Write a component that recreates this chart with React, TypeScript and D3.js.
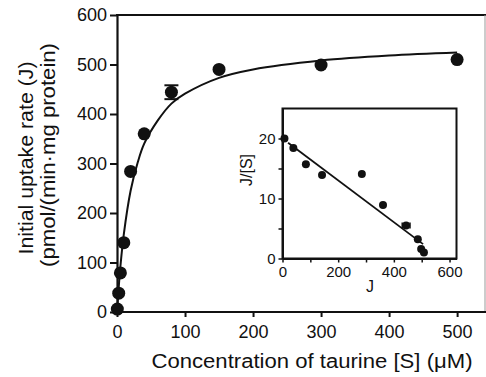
import React, { useEffect, useRef } from 'react';
import * as d3 from 'd3';

// main plot: uptake rate vs taurine concentration
const substrate = [0.5, 2.5, 5, 10, 20, 40, 80, 150, 300, 500];
const uptake = [6, 38, 79, 140, 284, 360, 444, 490, 499, 510];
const uptakeErr = [0, 0, 0, 0, 0, 0, 14, 0, 0, 0];

// fitted curve
const fitS = [0, 2, 5, 10, 20, 30, 40, 60, 80, 100, 150, 200, 300, 400, 500];
const fitJ = [0, 40, 92, 157, 245, 300, 340, 387, 421, 441, 473, 490, 508, 518, 524];

// inset: Eadie-Hofstee plot
const insetJ = [7, 39, 84, 142, 285, 361, 444, 486, 498, 508];
const insetRatio = [20, 18.4, 15.7, 13.9, 14.1, 8.9, 5.5, 3.2, 1.6, 1.0];
const insetErr = [0, 0, 0, 0, 0, 0, 14, 0, 0, 0];
const insetLineJ = [20, 505];
const insetLineRatio = [19.3, 2.4];

const mainYTicks = [0, 100, 200, 300, 400, 500, 600];
const mainXTicks = [0, 100, 200, 300, 400, 500];
const insetXTicks = [0, 100, 200, 300, 400, 500, 600];
const insetYTicks = [0, 5, 10, 15, 20];

const FONT = '"Liberation Sans", Arial, Helvetica, sans-serif';

const App = () => {
  const svgRef = useRef(null);

  useEffect(() => {
    const svg = d3.select(svgRef.current);
    svg.selectAll('*').remove();

    const x = d3.scaleLinear().domain([0, 541]).range([117, 485]);
    const y = d3.scaleLinear().domain([0, 600]).range([312, 15]);

    // frame: top and right
    svg.append('line').attr('x1', 116).attr('x2', 486).attr('y1', 15).attr('y2', 15)
      .attr('stroke', '#111').attr('stroke-width', 2);
    svg.append('line').attr('x1', 485).attr('x2', 485).attr('y1', 15).attr('y2', 312)
      .attr('stroke', '#999').attr('stroke-width', 1);

    const xAxis = svg.append('g').attr('transform', 'translate(0,312)')
      .call(d3.axisBottom(x).tickValues(mainXTicks).tickSize(5).tickPadding(8).tickSizeOuter(0));
    const yAxis = svg.append('g').attr('transform', 'translate(117,0)')
      .call(d3.axisLeft(y).tickValues(mainYTicks).tickSize(7).tickPadding(3).tickSizeOuter(0));
    [xAxis, yAxis].forEach((a) => {
      a.select('.domain').attr('stroke', '#111').attr('stroke-width', 2.2);
      a.selectAll('.tick line').attr('stroke', '#111').attr('stroke-width', 2);
      a.selectAll('text').attr('font-family', FONT).attr('font-size', 18).attr('fill', '#111');
    });
    xAxis.select('.domain').attr('d', 'M116,0H486');

    // fitted curve
    const fit = fitS.map((s, i) => [s, fitJ[i]]);
    svg.append('path').datum(fit)
      .attr('d', d3.line().x((d) => x(d[0])).y((d) => y(d[1])).curve(d3.curveCatmullRom))
      .attr('fill', 'none').attr('stroke', '#111').attr('stroke-width', 2);

    const pts = substrate.map((s, i) => ({ s, j: uptake[i], e: uptakeErr[i] }));
    const errs = svg.append('g').attr('stroke', '#111').attr('stroke-width', 2);
    pts.filter((d) => d.e > 0).forEach((d) => {
      errs.append('line').attr('x1', x(d.s)).attr('x2', x(d.s)).attr('y1', y(d.j - d.e)).attr('y2', y(d.j + d.e));
      [d.j - d.e, d.j + d.e].forEach((v) => {
        errs.append('line').attr('x1', x(d.s) - 7).attr('x2', x(d.s) + 7).attr('y1', y(v)).attr('y2', y(v));
      });
    });
    svg.append('g').selectAll('circle').data(pts).join('circle')
      .attr('cx', (d) => x(d.s)).attr('cy', (d) => y(d.j)).attr('r', 6.5).attr('fill', '#111');

    // axis titles (stretched a little to the reference's wide lettering)
    svg.append('text').attr('x', 312).attr('y', 368).attr('text-anchor', 'middle')
      .attr('font-family', FONT).attr('font-size', 20).attr('fill', '#111')
      .attr('textLength', 321).attr('lengthAdjust', 'spacingAndGlyphs')
      .text('Concentration of taurine [S] (\u03bcM)');
    svg.append('text').attr('transform', 'translate(33,158) rotate(-90)').attr('text-anchor', 'middle')
      .attr('font-family', FONT).attr('font-size', 20).attr('fill', '#111')
      .attr('textLength', 193).attr('lengthAdjust', 'spacingAndGlyphs')
      .text('Initial uptake rate (J)');
    svg.append('text').attr('transform', 'translate(55,155) rotate(-90)').attr('text-anchor', 'middle')
      .attr('font-family', FONT).attr('font-size', 20).attr('fill', '#111')
      .attr('textLength', 224).attr('lengthAdjust', 'spacingAndGlyphs')
      .text('(pmol/(min\u00b7mg protein)');

    // inset
    const ix = d3.scaleLinear().domain([0, 625]).range([282.5, 456.5]);
    const iy = d3.scaleLinear().domain([0, 25]).range([258.5, 108.5]);

    svg.append('rect').attr('x', 282.5).attr('y', 108.5).attr('width', 174).attr('height', 150)
      .attr('fill', 'white').attr('stroke', '#111').attr('stroke-width', 2);

    const ixAxis = svg.append('g').attr('transform', 'translate(0,258.5)')
      .call(d3.axisBottom(ix).tickValues(insetXTicks).tickSize(4).tickPadding(4).tickSizeOuter(0)
        .tickFormat((d) => (d % 200 === 0 ? String(d) : '')));
    const iyAxis = svg.append('g').attr('transform', 'translate(282.5,0)')
      .call(d3.axisLeft(iy).tickValues(insetYTicks).tickSize(4).tickPadding(3).tickSizeOuter(0)
        .tickFormat((d) => (d % 10 === 0 ? String(d) : '')));
    [ixAxis, iyAxis].forEach((a) => {
      a.select('.domain').attr('stroke', '#111').attr('stroke-width', 2);
      a.selectAll('.tick line').attr('stroke', '#111').attr('stroke-width', 1.5);
      a.selectAll('text').attr('font-family', FONT).attr('font-size', 15).attr('fill', '#111');
    });

    svg.append('path')
      .datum(insetLineJ.map((j, i) => [j, insetLineRatio[i]]))
      .attr('d', d3.line().x((d) => ix(d[0])).y((d) => iy(d[1])))
      .attr('stroke', '#111').attr('stroke-width', 1.8).attr('fill', 'none');

    const ipts = insetJ.map((j, i) => ({ j, r: insetRatio[i], e: insetErr[i] }));
    const ierr = svg.append('g').attr('stroke', '#111').attr('stroke-width', 1.5);
    ipts.filter((d) => d.e > 0).forEach((d) => {
      ierr.append('line').attr('x1', ix(d.j - d.e)).attr('x2', ix(d.j + d.e)).attr('y1', iy(d.r)).attr('y2', iy(d.r));
      [d.j - d.e, d.j + d.e].forEach((v) => {
        ierr.append('line').attr('x1', ix(v)).attr('x2', ix(v)).attr('y1', iy(d.r) - 3).attr('y2', iy(d.r) + 3);
      });
    });
    svg.append('g').selectAll('circle').data(ipts).join('circle')
      .attr('cx', (d) => ix(d.j)).attr('cy', (d) => iy(d.r)).attr('r', 4).attr('fill', '#111');

    svg.append('text').attr('x', 370).attr('y', 292).attr('text-anchor', 'middle')
      .attr('font-family', FONT).attr('font-size', 16).attr('fill', '#111').text('J');
    svg.append('text').attr('transform', 'translate(252,170) rotate(-90)').attr('text-anchor', 'middle')
      .attr('font-family', FONT).attr('font-size', 16).attr('fill', '#111').text('J/[S]');
  }, []);

  return (
    <svg ref={svgRef} width={486} height={377}
      style={{ position: 'absolute', left: 0, top: 0, background: 'white' }} />
  );
};

export default App;
